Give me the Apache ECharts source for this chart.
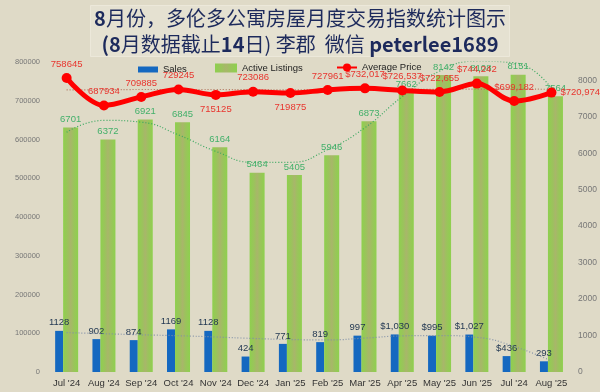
<!DOCTYPE html>
<html><head><meta charset="utf-8">
<script src="https://cdn.jsdelivr.net/npm/echarts@6/dist/echarts.min.js"></script>
<style>html,body{margin:0;padding:0;background:#dfdac7;}#c{width:600px;height:392px;}</style>
</head><body><div id="c"></div>
<script>
const categories = ["Jul '24","Aug '24","Sep '24","Oct '24","Nov '24","Dec '24","Jan '25","Feb '25","Mar '25","Apr '25","May '25","Jun '25","Jul '24","Aug '25"];
const sales = [1128,902,874,1169,1128,424,771,819,997,1030,995,1027,436,293];
const salesLabels = ['1128','902','874','1169','1128','424','771','819','997','$1,030','$995','$1,027','$436','293'];
const activeListings = [6701,6372,6921,6845,6164,5464,5405,5946,6873,7662,8142,8108,8151,7564];
const avgPrice = [758645,687934,709885,729245,715125,723086,719875,727961,732017,726537,722655,744242,699182,720974];
const avgPriceLabels = ['758645','687934','709885','729245','715125','723086','719875','727961','$732,017','$726,537','$722,655','$744,242','$699,182','$720,974'];
// dotted trend lines
const salesTrend = [1080,1050,1020,995,960,920,890,880,930,990,1000,950,700,300];
const activeTrend = [6575,6900,6850,6500,6050,5750,5750,6100,6700,7550,8250,8520,8480,7780];
const priceTrend = [728000,728500,729000,729000,729000,728500,728000,728000,728500,729000,729500,730000,730000,729500];
const leftTicks = [0,100000,200000,300000,400000,500000,600000,700000,800000];
const rightTicks = [0,1000,2000,3000,4000,5000,6000,7000,8000];

const priceLabelPlace = ['top','top','top','top','bottom','top','bottom','top','top','top','top','top','top','right'];
const FONT = "'Liberation Sans',sans-serif";

const chart = echarts.init(document.getElementById('c'), null, {renderer:'canvas'});
const greenGrad = new echarts.graphic.LinearGradient(0,0,1,0,[
  {offset:0,color:'#8ed04e'},{offset:0.3,color:'#9bc35c'},{offset:0.5,color:'#a8b66a'},
  {offset:0.7,color:'#9bc35c'},{offset:1,color:'#8ed04e'}]);

function legendAt(left, name, w, h, icon){
  return {left:left, top:67.5-h/2, padding:0, itemWidth:w, itemHeight:h, itemGap:0,
    textStyle:{fontFamily:FONT,fontSize:9.5,color:'#222'},
    data:[icon?{name:name,icon:icon}:{name:name}]};
}

chart.setOption({
  backgroundColor:'#dfdac7',
  animation:false,
  title:{
    left:'center', top:2,
    text:'{b|8}{n|月份，多伦多公寓房屋月度交易指数统计图示}\n{b|(8}{n|月数据截止}{b|14}{n|日) 李郡  微信 }{b|peterlee1689}',
    backgroundColor:'#e5e1d1', borderColor:'#ece8da', borderWidth:1,
    padding:[3,4,3,4],
    textStyle:{
      rich:{
        b:{fontFamily:"'Noto Sans CJK SC','Noto Sans',sans-serif",fontWeight:'bold',fontSize:20,color:'#1d2a5c',lineHeight:26},
        n:{fontFamily:"'Noto Sans CJK SC',sans-serif",fontWeight:'normal',fontSize:20,color:'#1d2a5c',lineHeight:26}
      }
    }
  },
  legend:[
    legendAt(138,'Sales',20,6,'rect'),
    legendAt(215,'Active Listings',22,9,'rect'),
    legendAt(336,'Average Price',20,10,null)
  ],
  grid:{left:48,right:29,top:62,bottom:20},
  xAxis:{
    type:'category', data:categories,
    axisLine:{show:false}, axisTick:{show:false},
    axisLabel:{fontFamily:FONT,fontSize:9.5,color:'#333',margin:6,interval:0}
  },
  yAxis:[{
    type:'value', min:0, max:800000, interval:100000,
    splitLine:{show:false}, axisLine:{show:false}, axisTick:{show:false},
    axisLabel:{fontFamily:FONT,fontSize:7.5,color:'#777',margin:8,
      formatter:v=>leftTicks.indexOf(v)>=0?String(v):''}
  },{
    type:'value', min:0, max:8500, interval:1000,
    splitLine:{show:false}, axisLine:{show:false}, axisTick:{show:false},
    axisLabel:{fontFamily:FONT,fontSize:8.5,color:'#777',margin:8,showMaxLabel:false,
      formatter:v=>rightTicks.indexOf(v)>=0?String(v):''}
  }],
  series:[
    {name:'Sales',type:'bar',yAxisIndex:1,data:sales,barWidth:8,barGap:'0%',
      itemStyle:{color:'#1468c0'},
      label:{show:true,position:'top',distance:3,fontFamily:FONT,fontSize:9.5,color:'#1f3550',
        formatter:p=>salesLabels[p.dataIndex]}},
    {name:'Active Listings',type:'bar',yAxisIndex:1,data:activeListings,barWidth:15,
      itemStyle:{color:greenGrad},
      label:{show:true,position:'top',distance:3,fontFamily:FONT,fontSize:9.5,color:'#42b06a',
        formatter:p=>String(activeListings[p.dataIndex])}},
    {name:'salesTrend',type:'line',yAxisIndex:1,data:salesTrend,smooth:true,symbol:'none',silent:true,
      lineStyle:{color:'#8090a8',width:1.2,type:[1,2]}},
    {name:'activeTrend',type:'line',yAxisIndex:1,data:activeTrend,smooth:true,symbol:'none',silent:true,
      lineStyle:{color:'#3aa860',width:1.2,type:[1,2]}},
    {name:'priceTrend',type:'line',yAxisIndex:0,data:priceTrend,smooth:true,symbol:'none',silent:true,
      lineStyle:{color:'#b0705a',width:1.2,type:[1,2]}},
    {name:'Average Price',type:'line',yAxisIndex:0,smooth:0.35,
      data:avgPrice.map((v,i)=>({value:v,label:{position:priceLabelPlace[i]}})),
      symbol:'circle',symbolSize:10,
      lineStyle:{color:'#ff0000',width:5},
      itemStyle:{color:'#ff0000'},
      label:{show:true,distance:4,fontFamily:FONT,fontSize:9.5,color:'#e8352e',
        formatter:p=>avgPriceLabels[p.dataIndex]}}
  ]
});
</script></body></html>
